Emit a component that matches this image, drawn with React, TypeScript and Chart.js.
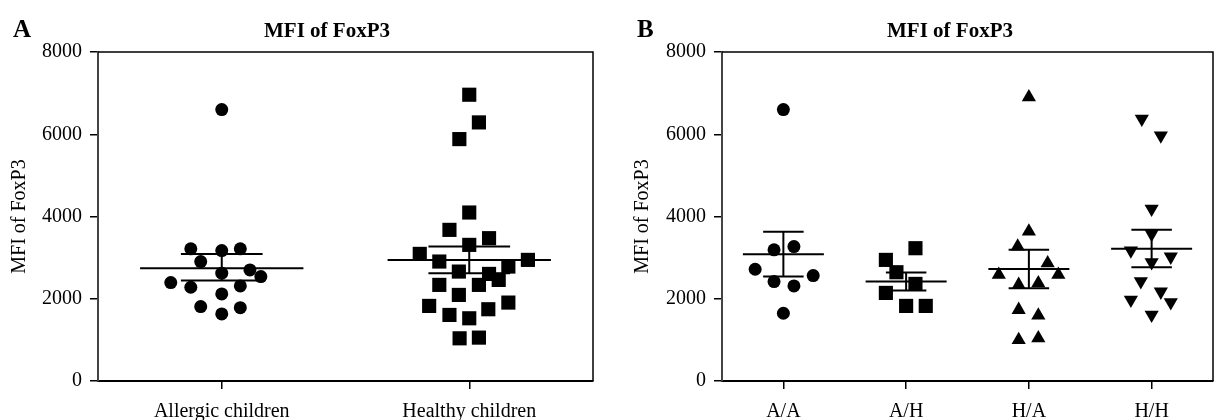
import React, { useEffect, useRef } from "react";
import { Chart, registerables } from "chart.js";
Chart.register(...registerables);

// ---------- data ----------
const panelACategories = ["Allergic children", "Healthy children"];
const panelBCategories = ["A/A", "A/H", "H/A", "H/H"];
const yMin = 0;
const yMax = 8000;
const yStep = 2000;
const chartTitle = "MFI of FoxP3";
const yAxisTitle = "MFI of FoxP3";

// Panel A
const allergicValues = [6600, 3213, 3172, 3213, 2904, 2621, 2702, 2539, 2393, 2280, 2312, 2118, 1809, 1784, 1631];
const allergicJitter = [0, -0.125, 0, 0.075, -0.085, 0, 0.114, 0.158, -0.206, -0.125, 0.075, 0, -0.085, 0.075, 0];
const healthyValues = [6961, 6288, 5882, 4097, 3675, 3473, 3310, 3091, 2945, 2905, 2783, 2661, 2604, 2458, 2337, 2337, 2093, 1826, 1907, 1745, 1606, 1525, 1038, 1055];
const healthyJitter = [0, 0.039, -0.04, 0, -0.08, 0.08, 0, -0.2, 0.237, -0.121, 0.158, -0.042, 0.08, 0.119, -0.121, 0.039, -0.042, -0.162, 0.158, 0.077, -0.08, 0, -0.039, 0.039];
const panelAMeans = [2743, 2945];
const panelASemHigh = [3091, 3270];
const panelASemLow = [2441, 2621];

// Panel B
const aaValues = [6600, 3189, 3269, 2718, 2564, 2418, 2312, 1647];
const aaJitter = [0, -0.076, 0.086, -0.23, 0.243, -0.076, 0.086, 0];
const ahValues = [3229, 2945, 2645, 2361, 2142, 1826, 1826];
const ahJitter = [0.076, -0.165, -0.079, 0.076, -0.165, 0, 0.16];
const haValues = [6900, 3639, 3274, 2867, 2583, 2583, 2339, 2380, 1731, 1594, 1000, 1042];
const haJitter = [0, 0, -0.091, 0.153, -0.245, 0.24, -0.083, 0.077, -0.083, 0.077, -0.083, 0.077];
const hhValues = [6374, 5968, 4187, 3576, 3169, 3023, 2887, 2424, 2171, 1976, 1913, 1611];
const hhJitter = [-0.08, 0.075, 0, 0, -0.169, 0.156, 0, -0.088, 0.075, -0.169, 0.156, 0];
const panelBMeans = [3083, 2418, 2726, 3213];
const panelBSemHigh = [3627, 2637, 3189, 3675];
const panelBSemLow = [2540, 2199, 2256, 2767];

// ---------- styling ----------
const FONT = '"Liberation Serif", "Times New Roman", serif';
const MEAN_HW = 0.33;
const SEM_HW = 0.165;

type Group = { values: number[]; jitter: number[]; style: string; radius: number; rotation?: number };

function buildDatasets(groups: Group[], means: number[], hi: number[], lo: number[]) {
  const ds: any[] = [];
  groups.forEach((g, i) => {
    ds.push({
      data: g.values.map((v, k) => ({ x: i + g.jitter[k], y: v })),
      pointStyle: g.style,
      pointRadius: g.radius,
      pointRotation: g.rotation || 0,
      backgroundColor: "#000",
      borderColor: "#000",
      borderWidth: 0,
      showLine: false,
      order: 2,
    });
  });
  groups.forEach((_g, i) => {
    const segs: [number, number][][] = [
      [[i - MEAN_HW, means[i]], [i + MEAN_HW, means[i]]],
      [[i - SEM_HW, hi[i]], [i + SEM_HW, hi[i]]],
      [[i - SEM_HW, lo[i]], [i + SEM_HW, lo[i]]],
      [[i, lo[i]], [i, hi[i]]],
    ];
    segs.forEach((seg) =>
      ds.push({
        data: seg.map(([x, y]) => ({ x, y })),
        showLine: true,
        borderColor: "#000",
        borderWidth: 2,
        pointRadius: 0,
        fill: false,
        order: 1,
      })
    );
  });
  return ds;
}

const framePlugin = {
  id: "frameText",
  afterDraw(chart: any, _args: any, opts: any) {
    const { ctx, chartArea } = chart;
    const { left, right, top, bottom } = chartArea;
    ctx.save();
    ctx.strokeStyle = "#000";
    ctx.lineWidth = 1.5;
    ctx.beginPath();
    ctx.moveTo(left, top);
    ctx.lineTo(right, top);
    ctx.lineTo(right, bottom);
    ctx.stroke();
    ctx.fillStyle = "#000";
    ctx.textBaseline = "alphabetic";
    ctx.textAlign = "left";
    ctx.font = `bold 25px ${FONT}`;
    ctx.fillText(opts.letter, opts.letterX, 37);
    ctx.textAlign = "center";
    ctx.font = `bold 21px ${FONT}`;
    ctx.fillText(opts.title, opts.titleX, 36.5);
    ctx.restore();
  },
};

type PanelProps = {
  left: number;
  width: number;
  categories: string[];
  groups: Group[];
  means: number[];
  hi: number[];
  lo: number[];
  yWidth: number;
  rightPad: number;
  yTitlePad: number;
  letter: string;
  letterX: number;
  titleX: number;
};

function Panel(p: PanelProps) {
  const ref = useRef<HTMLCanvasElement>(null);
  useEffect(() => {
    if (!ref.current) return;
    const chart = new Chart(ref.current, {
      type: "scatter",
      data: { datasets: buildDatasets(p.groups, p.means, p.hi, p.lo) },
      plugins: [framePlugin],
      options: {
        animation: false,
        responsive: false,
        events: [],
        layout: { autoPadding: false, padding: { top: 52, left: 0, bottom: 0, right: p.rightPad } },
        plugins: {
          legend: { display: false },
          tooltip: { enabled: false },
          title: { display: false },
          frameText: { letter: p.letter, letterX: p.letterX, title: chartTitle, titleX: p.titleX },
        } as any,
        scales: {
          x: {
            type: "linear",
            min: -0.5,
            max: p.categories.length - 0.5,
            afterBuildTicks: (scale: any) => {
              scale.ticks = p.categories.map((_c, i) => ({ value: i }));
            },
            afterFit: (scale: any) => {
              scale.height = 39;
              scale.paddingLeft = 0;
              scale.paddingRight = 0;
            },
            ticks: {
              callback: (v: any) => p.categories[Math.round(Number(v))] ?? "",
              font: { family: FONT, size: 20 },
              color: "#000",
              padding: 11,
              maxRotation: 0,
              autoSkip: false,
            },
            grid: { drawOnChartArea: false, drawTicks: true, tickLength: 8, color: "#000", lineWidth: 1.5 },
            border: { display: true, color: "#000", width: 2 },
          },
          y: {
            type: "linear",
            min: yMin,
            max: yMax,
            afterFit: (scale: any) => {
              scale.width = p.yWidth;
              scale.paddingTop = 0;
              scale.paddingBottom = 0;
            },
            ticks: {
              stepSize: yStep,
              callback: (v: any) => String(v),
              font: { family: FONT, size: 20 },
              color: "#000",
              padding: 8,
            },
            title: {
              display: true,
              text: yAxisTitle,
              font: { family: FONT, size: 20 },
              color: "#000",
              padding: { top: p.yTitlePad, bottom: 0 },
            },
            grid: { drawOnChartArea: false, drawTicks: true, tickLength: 8, color: "#000", lineWidth: 1.5 },
            border: { display: true, color: "#444", width: 2 },
          },
        },
      } as any,
    });
    return () => chart.destroy();
  }, []);
  return (
    <div style={{ position: "absolute", left: p.left, top: 0, width: p.width, height: 420 }}>
      <canvas ref={ref} width={p.width} height={420} />
    </div>
  );
}

export default function App() {
  const groupsA: Group[] = [
    { values: allergicValues, jitter: allergicJitter, style: "circle", radius: 6.5 },
    { values: healthyValues, jitter: healthyJitter, style: "rect", radius: 10 },
  ];
  const groupsB: Group[] = [
    { values: aaValues, jitter: aaJitter, style: "circle", radius: 6.5 },
    { values: ahValues, jitter: ahJitter, style: "rect", radius: 10 },
    { values: haValues, jitter: haJitter, style: "triangle", radius: 8.2 },
    { values: hhValues, jitter: hhJitter, style: "triangle", radius: 8.2, rotation: 180 },
  ];
  return (
    <div style={{ position: "absolute", left: 0, top: 0, width: 1214, height: 420, background: "#fff", overflow: "hidden" }}>
      <Panel
        left={0}
        width={600}
        categories={panelACategories}
        groups={groupsA}
        means={panelAMeans}
        hi={panelASemHigh}
        lo={panelASemLow}
        yWidth={98}
        rightPad={7}
        yTitlePad={8}
        letter="A"
        letterX={13}
        titleX={327}
      />
      <Panel
        left={600}
        width={614}
        categories={panelBCategories}
        groups={groupsB}
        means={panelBMeans}
        hi={panelBSemHigh}
        lo={panelBSemLow}
        yWidth={122}
        rightPad={1}
        yTitlePad={31}
        letter="B"
        letterX={37}
        titleX={350}
      />
    </div>
  );
}
